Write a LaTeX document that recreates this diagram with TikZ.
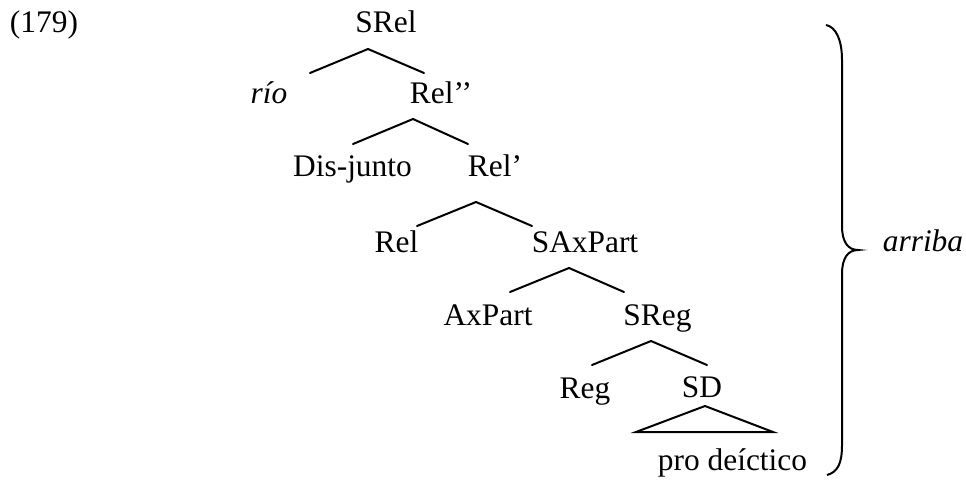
\documentclass[tikz,border=0pt]{standalone}
\usepackage{fontspec}
\setmainfont{Liberation Serif}
\begin{document}
\begin{tikzpicture}[x=1pt,y=-1pt,
  lab/.style={anchor=base, inner sep=0pt, font=\fontsize{31.4}{36}\selectfont},
  branch/.style={line width=2pt, line cap=round},
  bracepath/.style={line width=2pt}]
\useasboundingbox (0,0) rectangle (966,479);
% labels
\node[lab] (num) at (44,32) {(179)};
\node[lab] (srel) at (386,32) {SRel};
\node[lab] (rio) at (269,103) {\itshape río};
\node[lab] (relpp) at (441,103) {Rel’’};
\node[lab] (dis) at (352.5,176) {Dis-junto};
\node[lab] (relp) at (495,176) {Rel’};
\node[lab] (rel) at (396.5,252) {Rel};
\node[lab] (sax) at (585,252) {SAxPart};
\node[lab] (axp) at (488,325) {AxPart};
\node[lab] (sreg) at (657.5,325) {SReg};
\node[lab] (reg) at (585,398) {Reg};
\node[lab] (sd) at (702,397) {SD};
\node[lab] (pro) at (732.5,470) {pro deíctico};
\node[lab] (arriba) at (923,251) {\itshape arriba};
% branch points
\coordinate (a1) at (368,49);  \coordinate (l1) at (310,73);  \coordinate (r1) at (424,73);
\coordinate (a2) at (413,119); \coordinate (l2) at (353,144); \coordinate (r2) at (468,144);
\coordinate (a3) at (476,202); \coordinate (l3) at (417,226); \coordinate (r3) at (532,226);
\coordinate (a4) at (569,268); \coordinate (l4) at (510,292); \coordinate (r4) at (624,292);
\coordinate (a5) at (651,341); \coordinate (l5) at (592,365); \coordinate (r5) at (707,365);
\coordinate (a6) at (705,406); \coordinate (l6) at (636,432); \coordinate (r6) at (773,432);
\draw[branch] (l1) -- (a1) -- (r1);
\draw[branch] (l2) -- (a2) -- (r2);
\draw[branch] (l3) -- (a3) -- (r3);
\draw[branch] (l4) -- (a4) -- (r4);
\draw[branch] (l5) -- (a5) -- (r5);
\draw[branch, line join=miter] (l6) -- (a6) -- (r6) -- cycle;
% brace
\coordinate (bt) at (826,25);
\coordinate (bm) at (858,250);
\coordinate (bb) at (827,475);
\draw[bracepath] (bt) .. controls (836,27) and (842,40) .. (842,60) -- (842,226)
  .. controls (842,242) and (848,250) .. (bm)
  .. controls (848,250) and (842,258) .. (842,274) -- (842,445)
  .. controls (842,463) and (838,472) .. (bb);
\end{tikzpicture}
\end{document}
